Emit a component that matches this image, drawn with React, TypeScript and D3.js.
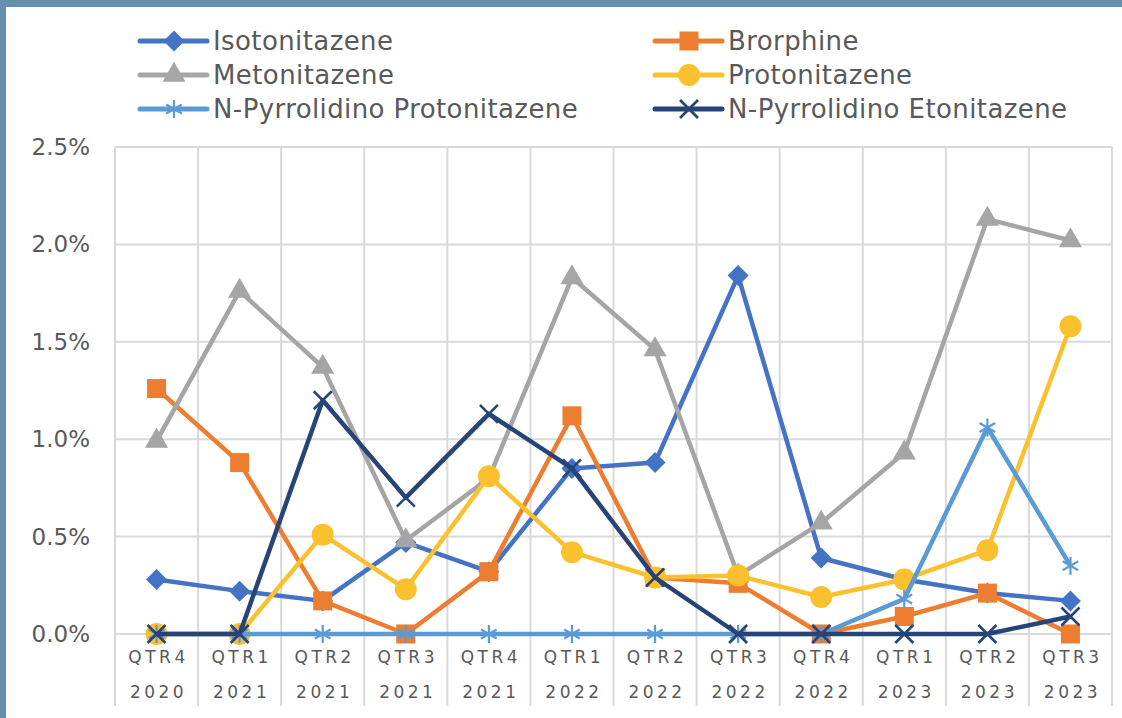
import React from "react";
import * as d3 from "d3";

const quarters = ["QTR4", "QTR1", "QTR2", "QTR3", "QTR4", "QTR1", "QTR2", "QTR3", "QTR4", "QTR1", "QTR2", "QTR3"];
const years = ["2020", "2021", "2021", "2021", "2021", "2022", "2022", "2022", "2022", "2023", "2023", "2023"];
const yTicks = [0, 0.5, 1.0, 1.5, 2.0, 2.5];

const isotonitazene = [0.28, 0.22, 0.17, 0.47, 0.32, 0.85, 0.88, 1.84, 0.39, 0.28, 0.21, 0.17];
const brorphine = [1.26, 0.88, 0.17, 0.0, 0.32, 1.12, 0.29, 0.26, 0.0, 0.09, 0.21, 0.0];
const metonitazene = [0.99, 1.76, 1.37, 0.48, 0.8, 1.83, 1.46, 0.3, 0.57, 0.93, 2.13, 2.02];
const protonitazene = [0.0, 0.0, 0.51, 0.23, 0.81, 0.42, 0.29, 0.3, 0.19, 0.28, 0.43, 1.58];
const npProtonitazene = [0, 0, 0, 0, 0, 0, 0, 0, 0, 0.18, 1.06, 0.35];
const npEtonitazene = [0, 0, 1.2, 0.7, 1.13, 0.85, 0.29, 0, 0, 0, 0, 0.09];

const seriesNames = [
  "Isotonitazene",
  "Brorphine",
  "Metonitazene",
  "Protonitazene",
  "N-Pyrrolidino Protonitazene",
  "N-Pyrrolidino Etonitazene",
];
const seriesValues = [isotonitazene, brorphine, metonitazene, protonitazene, npProtonitazene, npEtonitazene];
const seriesColors = ["#4472C4", "#ED7D31", "#A5A5A5", "#FBC02D", "#5B9BD5", "#264478"];
const seriesMarkers = ["diamond", "square", "triangle", "circle", "star", "x"];

const W = 1122;
const H = 718;
const plotLeft = 115;
const plotRight = 1112;
const plotTop = 147;
const plotBottom = 634;
const textColor = "#595959";
const font = "'DejaVu Sans', sans-serif";

function Marker({ type, x, y, color }: { type: string; x: number; y: number; color: string }) {
  if (type === "diamond") {
    const r = 10.5;
    return <path d={`M${x},${y - r}L${x + r},${y}L${x},${y + r}L${x - r},${y}Z`} fill={color} />;
  }
  if (type === "square") {
    const s = 19;
    return <rect x={x - s / 2} y={y - s / 2} width={s} height={s} fill={color} />;
  }
  if (type === "triangle") {
    const p = d3.symbol(d3.symbolTriangle, 230)();
    return <path d={p!} transform={`translate(${x},${y})`} fill={color} />;
  }
  if (type === "circle") {
    return <circle cx={x} cy={y} r={11} fill={color} />;
  }
  if (type === "star") {
    const r = 9;
    const a = r * Math.cos(Math.PI / 6);
    const b = r * Math.sin(Math.PI / 6);
    return (
      <g stroke={color} strokeWidth={2.2}>
        <line x1={x} y1={y - r} x2={x} y2={y + r} />
        <line x1={x - a} y1={y - b} x2={x + a} y2={y + b} />
        <line x1={x - a} y1={y + b} x2={x + a} y2={y - b} />
      </g>
    );
  }
  const r = 9;
  return (
    <g stroke={color} strokeWidth={2.6}>
      <line x1={x - r} y1={y - r} x2={x + r} y2={y + r} />
      <line x1={x - r} y1={y + r} x2={x + r} y2={y - r} />
    </g>
  );
}

export default function App() {
  const x = d3.scaleBand<number>().domain(d3.range(quarters.length)).range([plotLeft, plotRight]);
  const y = d3.scaleLinear().domain([0, 2.5]).range([plotBottom, plotTop]);
  const cx = (i: number) => x(i)! + x.bandwidth() / 2;
  const line = d3
    .line<number>()
    .x((_, i) => cx(i))
    .y((d) => y(d));

  const legendCols = [140, 655];
  const legendRows = [41, 75, 109];

  return (
    <svg width={W} height={H} style={{ position: "absolute", left: 0, top: 0, display: "block" }}>
      <rect x={0} y={0} width={W} height={H} fill="#ffffff" />
      <rect x={0} y={0} width={W} height={7} fill="#6490AE" />
      <rect x={0} y={0} width={6} height={H} fill="#6490AE" />

      {yTicks.map((t) => (
        <line key={"h" + t} x1={plotLeft} x2={plotRight} y1={y(t)} y2={y(t)} stroke="#D9D9D9" strokeWidth={2} />
      ))}
      {d3.range(quarters.length + 1).map((i) => {
        const xx = i < quarters.length ? x(i)! : plotRight;
        return <line key={"v" + i} x1={xx} x2={xx} y1={plotTop} y2={706} stroke="#D9D9D9" strokeWidth={2} />;
      })}

      {yTicks.map((t) => (
        <text
          key={"yl" + t}
          x={90}
          y={y(t)}
          dy="0.35em"
          textAnchor="end"
          fontFamily={font}
          fontSize={23}
          fill={textColor}
        >
          {t.toFixed(1) + "%"}
        </text>
      ))}

      {quarters.map((q, i) => (
        <g key={"xl" + i}>
          <text
            x={cx(i) + 2}
            y={663}
            textAnchor="middle"
            fontFamily={font}
            fontSize={17}
            letterSpacing={3.5}
            fill={textColor}
          >
            {q}
          </text>
          <text
            x={cx(i) + 2}
            y={698}
            textAnchor="middle"
            fontFamily={font}
            fontSize={17}
            letterSpacing={3.5}
            fill={textColor}
          >
            {years[i]}
          </text>
        </g>
      ))}

      {seriesValues.map((vals, s) => (
        <g key={"s" + s}>
          <path d={line(vals)!} fill="none" stroke={seriesColors[s]} strokeWidth={4.5} strokeLinejoin="round" />
          {vals.map((v, i) => (
            <Marker key={i} type={seriesMarkers[s]} x={cx(i)} y={y(v)} color={seriesColors[s]} />
          ))}
        </g>
      ))}

      {seriesNames.map((name, s) => {
        const lx = legendCols[s % 2];
        const ly = legendRows[Math.floor(s / 2)];
        return (
          <g key={"lg" + s}>
            <line x1={lx} x2={lx + 67} y1={ly} y2={ly} stroke={seriesColors[s]} strokeWidth={5} strokeLinecap="round" />
            <Marker type={seriesMarkers[s]} x={lx + 34} y={ly} color={seriesColors[s]} />
            <text x={lx + 73} y={ly} dy="0.35em" fontFamily={font} fontSize={26} letterSpacing={0.4} fill={textColor}>
              {name}
            </text>
          </g>
        );
      })}
    </svg>
  );
}
